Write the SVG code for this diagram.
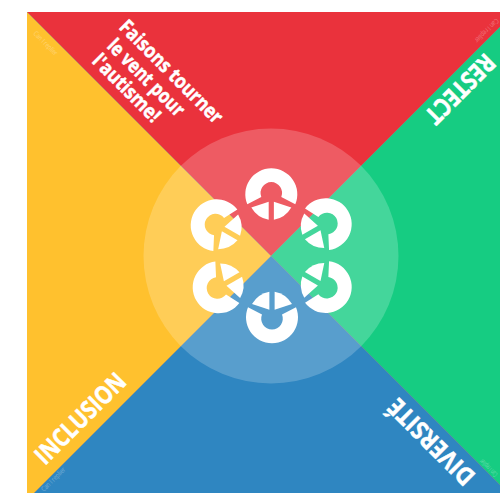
<svg xmlns="http://www.w3.org/2000/svg" width="500" height="493" viewBox="0 0 500 493">
<defs>
<style>
.t{font-family:"Open Sans","Noto Sans",sans-serif;font-weight:700;fill:#fff;stroke:#fff;stroke-width:.5}
.m{font-size:20px}
.l{font-size:25px}
.s{font-family:"Open Sans",sans-serif;font-size:7px;fill:#fff;opacity:.3}
.w{fill:#fff}
</style>
<g id="glyph">
<path class="w" d="M-24 10A26 26 0 1 1 24 10L10 2.700A10.800 10.800 0 1 0 -10 2.700Z"/>
<path class="w" d="M-20 13.200L-2.600 7.500V25.500A25.500 25.500 0 0 1 -20 13.200Z"/>
<path class="w" d="M20 13.200L2.600 7.500V25.500A25.500 25.500 0 0 0 20 13.200Z"/>
</g>
</defs>
<rect width="500" height="493" fill="#fff"/>
<g id="quadrants">
<polygon points="27,12 515,12 271,256" fill="#ea323c"/>
<polygon points="515,12 515,500 271,256" fill="#16cc82"/>
<polygon points="27,500 515,500 271,256" fill="#2f86c1"/>
<polygon points="27,12 27,500 271,256" fill="#ffc12e"/>
<path d="M27 12L515 500M515 12L27 500" stroke="#444" stroke-width=".5" opacity=".6"/>
</g>
<circle id="halo" cx="271" cy="256" r="127.500" fill="#fff" opacity=".2"/>
<g id="node-top"><use href="#glyph" transform="translate(271.300 194.300)"/></g>
<g id="node-top-right"><use href="#glyph" transform="translate(325.700 224.200) rotate(60)"/></g>
<g id="node-bottom-right"><use href="#glyph" transform="translate(325.700 287) rotate(120)"/></g>
<g id="node-bottom"><use href="#glyph" transform="translate(272 317.300) rotate(180)"/></g>
<g id="node-bottom-left"><use href="#glyph" transform="translate(218.700 287.300) rotate(240)"/></g>
<g id="node-top-left"><use href="#glyph" transform="translate(216.700 225.300) rotate(300)"/></g>
<g id="labels">
<text class="t m" transform="translate(118 28) rotate(45)" textLength="137" lengthAdjust="spacingAndGlyphs">Faisons tourner</text>
<text class="t m" transform="translate(106 47) rotate(45)" textLength="100" lengthAdjust="spacingAndGlyphs">le vent pour</text>
<text class="t m" transform="translate(91 62) rotate(45)" textLength="87" lengthAdjust="spacingAndGlyphs">l'autisme!</text>
<text class="t l" transform="translate(45 466) rotate(-45)" textLength="117" lengthAdjust="spacingAndGlyphs">INCLUSION</text>
<text class="t l" transform="translate(485 52) rotate(135)" textLength="87" lengthAdjust="spacingAndGlyphs">RESTECT</text>
<text class="t l" transform="translate(476.700 475) rotate(225)" textLength="111" lengthAdjust="spacingAndGlyphs">DIVERSITÉ</text>
<text class="s" transform="translate(33 34) rotate(45)" textLength="31" lengthAdjust="spacingAndGlyphs">Can I replier</text>
<text class="s" transform="translate(496 18) rotate(135)" textLength="31" lengthAdjust="spacingAndGlyphs">Can I replier</text>
<text class="s" transform="translate(44 492) rotate(-45)" textLength="31" lengthAdjust="spacingAndGlyphs">Can I replier</text>
<text class="s" transform="translate(498 474) rotate(225)" textLength="22" lengthAdjust="spacingAndGlyphs">Can I replier</text>
</g>
</svg>
